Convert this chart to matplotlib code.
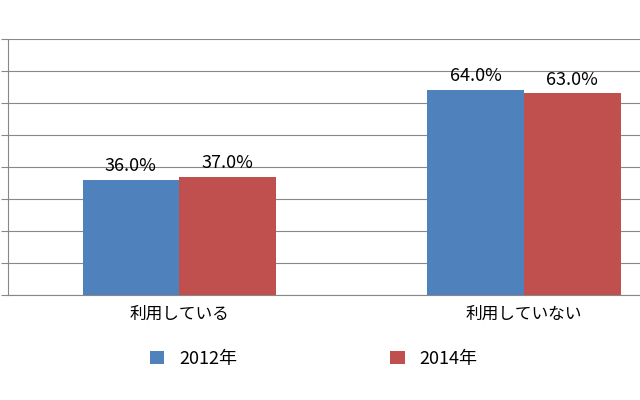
import matplotlib
matplotlib.use('Agg')
import matplotlib.pyplot as plt
import numpy as np

plt.rcParams['font.family'] = ['Noto Sans CJK JP', 'DejaVu Sans']

categories = ['利用している', '利用していない']
series = ['2012年', '2014年']
values_2012 = [36.0, 64.0]
values_2014 = [37.0, 63.0]
colors = ['#4f81bd', '#c0504d']

fig = plt.figure(figsize=(6.4, 4.0), dpi=100)
ax = fig.add_axes([8/640, 1-295/400, 1-8/640, 256/400])

x = np.arange(len(categories))
w = 0.28
for off, vals, lab, c in [(-w/2, values_2012, series[0], colors[0]),
                          (w/2, values_2014, series[1], colors[1])]:
    bars = ax.bar(x + off, vals, w, color=c, label=lab, zorder=3)
    for b, v in zip(bars, vals):
        ax.text(b.get_x() + b.get_width()/2, v + 1.5, f'{v:.1f}%',
                ha='center', va='bottom', fontsize=13)

ax.set_xlim(-0.496, 1.336)
ax.set_ylim(0, 80)
ax.set_yticks(np.arange(0, 81, 10))
ax.yaxis.grid(True, color='#888888', linewidth=0.8, zorder=0)
ax.set_yticklabels([])
ax.tick_params(axis='y', length=5, color='#888888')
ax.tick_params(axis='x', length=0, labelsize=12, pad=8)
ax.set_xticks(x)
ax.set_xticklabels(categories)
for s in ['top', 'right']:
    ax.spines[s].set_visible(False)
ax.spines['left'].set_color('#888888')
ax.spines['bottom'].set_color('#888888')

fig.legend(loc='lower center', bbox_to_anchor=(0.49, 0.04), ncol=2,
           frameon=False, fontsize=13, columnspacing=8.5, handlelength=0.8,
           handleheight=0.8)
fig.savefig('out.png')
